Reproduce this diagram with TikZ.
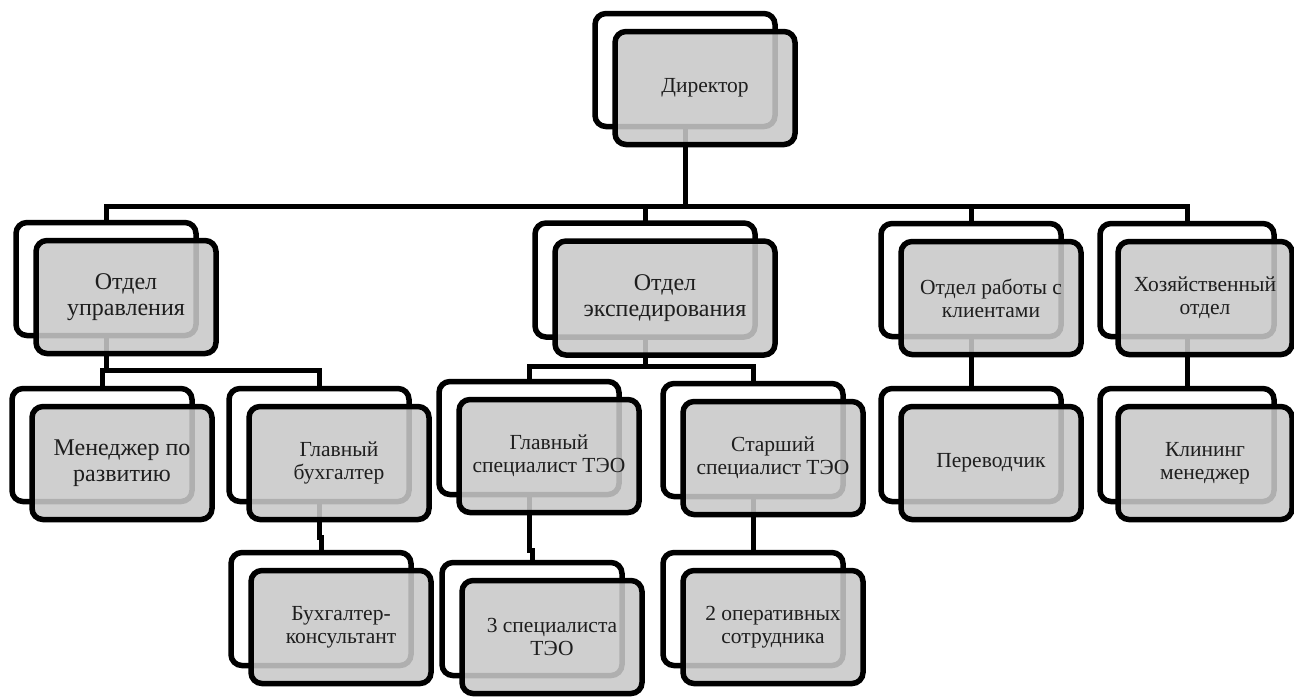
\documentclass[tikz,border=0pt]{standalone}
\usepackage{fontspec}
\setmainfont{Liberation Serif}
\definecolor{boxgray}{RGB}{201,201,201}
\definecolor{txt}{RGB}{30,30,30}
\tikzset{
  backbox/.style={draw=black, line width=5.5pt, rounded corners=11pt, fill=white, inner sep=0pt, outer sep=0pt},
  frontbox/.style={draw=black, line width=5.5pt, rounded corners=11pt, fill=boxgray, fill opacity=0.875, text opacity=1, inner sep=0pt, outer sep=0pt, align=center, text=txt, font=\fontsize{21.5}{23}\selectfont},
  bigtext/.style={font=\fontsize{24}{25.5}\selectfont},
  std/.style={minimum width=180pt, minimum height=113pt},
  wide/.style={minimum width=220pt, minimum height=114pt},
  narrow/.style={minimum width=174pt, minimum height=113pt},
  link/.style={draw=black, line width=5pt}
}
\begin{document}
\begin{tikzpicture}[x=1pt,y=-1pt]
\fill[white] (0,0) rectangle (1294,697);
\useasboundingbox (0,0) rectangle (1294,697);
% back boxes
\node[backbox,std]    (dirB) at (685,70)  {};
\node[backbox,std]    (ouB)  at (106,279) {};
\node[backbox,wide]   (oeB)  at (645,280) {};
\node[backbox,std]    (okB)  at (971,280) {};
\node[backbox,narrow] (ohB)  at (1187,280) {};
\node[backbox,std]    (mrB)  at (102,445) {};
\node[backbox,std]    (gbB)  at (319,445) {};
\node[backbox,std]    (bkB)  at (321,609) {};
\node[backbox,std]    (gsB)  at (529,438) {};
\node[backbox,std]    (ssB)  at (753,440) {};
\node[backbox,std]    (tsB)  at (532,619) {};
\node[backbox,std]    (osB)  at (753,609) {};
\node[backbox,std]    (pvB)  at (971,445) {};
\node[backbox,narrow] (kmB)  at (1187,445) {};
% connectors
\coordinate (busA) at (0,206);
\coordinate (busB) at (0,370);
\coordinate (busC) at (0,366);
\coordinate (kinkA) at (0,537);
\coordinate (kinkB) at (0,550);
\draw[link] (dirB.south) -- (dirB.south |- busA) -| (ouB.north);
\draw[link] (dirB.south) -- (dirB.south |- busA) -| (oeB.north);
\draw[link] (dirB.south) -- (dirB.south |- busA) -| (okB.north);
\draw[link] (dirB.south) -- (dirB.south |- busA) -| (ohB.north);
\draw[link] (ouB.south) -- (ouB.south |- busB) -| (mrB.north);
\draw[link] (ouB.south) -- (ouB.south |- busB) -| (gbB.north);
\draw[link] (gbB.south) -- (gbB.south |- kinkA) -| (bkB.north);
\draw[link] (oeB.south) -- (oeB.south |- busC) -| (gsB.north);
\draw[link] (oeB.south) -- (oeB.south |- busC) -| (ssB.north);
\draw[link] (gsB.south) -- (gsB.south |- kinkB) -| (tsB.north);
\draw[link] (ssB.south) -- (osB.north);
\draw[link] (okB.south) -- (pvB.north);
\draw[link] (ohB.south) -- (kmB.north);
% front boxes
\node[frontbox,std]    (dir) at (705,88)  {Директор};
\node[frontbox,std,bigtext]  (ou)  at (126,297) {Отдел\\управления};
\node[frontbox,wide,bigtext] (oe)  at (665,298) {Отдел\\экспедирования};
\node[frontbox,std]    (ok)  at (991,298) {Отдел работы с\\клиентами};
\node[frontbox,narrow] (oh)  at (1205,298) {Хозяйственный\\отдел};
\node[frontbox,std,bigtext]  (mr)  at (122,463) {Менеджер по\\развитию};
\node[frontbox,std]    (gb)  at (339,463) {Главный\\бухгалтер};
\node[frontbox,std]    (bk)  at (341,627) {Бухгалтер-\\консультант};
\node[frontbox,std]    (gs)  at (549,456) {Главный\\специалист ТЭО};
\node[frontbox,std]    (ss)  at (773,458) {Старший\\специалист ТЭО};
\node[frontbox,std]    (ts)  at (552,637) {3 специалиста\\ТЭО};
\node[frontbox,std]    (os)  at (773,627) {2 оперативных\\сотрудника};
\node[frontbox,std]    (pv)  at (991,463) {Переводчик};
\node[frontbox,narrow] (km)  at (1205,463) {Клининг\\менеджер};
\end{tikzpicture}
\end{document}
